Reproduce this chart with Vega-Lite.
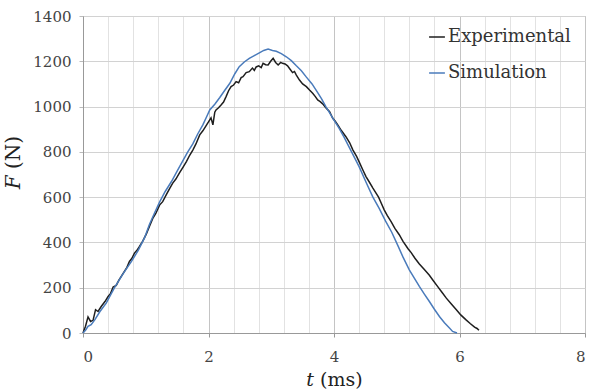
{
  "$schema": "https://vega.github.io/schema/vega-lite/v6.json",
  "autosize": {"type": "none"},
  "padding": {"left": 83, "top": 16, "right": 14, "bottom": 59},
  "width": 502,
  "height": 317,
  "background": "white",
  "config": {
    "view": {"stroke": "#a8a8a8", "strokeWidth": 1},
    "font": "DejaVu Serif"
  },
  "data": {
    "values": [
      {"t": 0, "F": 0, "series": "Experimental"},
      {"t": 0.04, "F": 30, "series": "Experimental"},
      {"t": 0.08, "F": 71, "series": "Experimental"},
      {"t": 0.12, "F": 51, "series": "Experimental"},
      {"t": 0.16, "F": 56, "series": "Experimental"},
      {"t": 0.2, "F": 103, "series": "Experimental"},
      {"t": 0.24, "F": 95, "series": "Experimental"},
      {"t": 0.29, "F": 117, "series": "Experimental"},
      {"t": 0.35, "F": 139, "series": "Experimental"},
      {"t": 0.4, "F": 161, "series": "Experimental"},
      {"t": 0.44, "F": 175, "series": "Experimental"},
      {"t": 0.48, "F": 203, "series": "Experimental"},
      {"t": 0.53, "F": 210, "series": "Experimental"},
      {"t": 0.57, "F": 232, "series": "Experimental"},
      {"t": 0.61, "F": 250, "series": "Experimental"},
      {"t": 0.66, "F": 272, "series": "Experimental"},
      {"t": 0.7, "F": 290, "series": "Experimental"},
      {"t": 0.74, "F": 316, "series": "Experimental"},
      {"t": 0.78, "F": 330, "series": "Experimental"},
      {"t": 0.82, "F": 353, "series": "Experimental"},
      {"t": 0.86, "F": 365, "series": "Experimental"},
      {"t": 0.9, "F": 382, "series": "Experimental"},
      {"t": 0.95, "F": 405, "series": "Experimental"},
      {"t": 1.01, "F": 438, "series": "Experimental"},
      {"t": 1.06, "F": 472, "series": "Experimental"},
      {"t": 1.11, "F": 505, "series": "Experimental"},
      {"t": 1.16, "F": 528, "series": "Experimental"},
      {"t": 1.22, "F": 565, "series": "Experimental"},
      {"t": 1.27, "F": 580, "series": "Experimental"},
      {"t": 1.33, "F": 612, "series": "Experimental"},
      {"t": 1.38, "F": 638, "series": "Experimental"},
      {"t": 1.43, "F": 662, "series": "Experimental"},
      {"t": 1.48, "F": 680, "series": "Experimental"},
      {"t": 1.54, "F": 708, "series": "Experimental"},
      {"t": 1.6, "F": 735, "series": "Experimental"},
      {"t": 1.65, "F": 758, "series": "Experimental"},
      {"t": 1.7, "F": 785, "series": "Experimental"},
      {"t": 1.75, "F": 808, "series": "Experimental"},
      {"t": 1.8, "F": 835, "series": "Experimental"},
      {"t": 1.86, "F": 875, "series": "Experimental"},
      {"t": 1.91, "F": 893, "series": "Experimental"},
      {"t": 1.96, "F": 915, "series": "Experimental"},
      {"t": 2.0, "F": 932, "series": "Experimental"},
      {"t": 2.04, "F": 950, "series": "Experimental"},
      {"t": 2.07, "F": 919, "series": "Experimental"},
      {"t": 2.1, "F": 975, "series": "Experimental"},
      {"t": 2.12, "F": 985, "series": "Experimental"},
      {"t": 2.16, "F": 995, "series": "Experimental"},
      {"t": 2.2, "F": 1007, "series": "Experimental"},
      {"t": 2.24, "F": 1020, "series": "Experimental"},
      {"t": 2.28, "F": 1044, "series": "Experimental"},
      {"t": 2.32, "F": 1070, "series": "Experimental"},
      {"t": 2.36, "F": 1088, "series": "Experimental"},
      {"t": 2.4, "F": 1095, "series": "Experimental"},
      {"t": 2.44, "F": 1110, "series": "Experimental"},
      {"t": 2.48, "F": 1105, "series": "Experimental"},
      {"t": 2.52, "F": 1128, "series": "Experimental"},
      {"t": 2.55, "F": 1132, "series": "Experimental"},
      {"t": 2.6, "F": 1150, "series": "Experimental"},
      {"t": 2.65, "F": 1154, "series": "Experimental"},
      {"t": 2.7, "F": 1170, "series": "Experimental"},
      {"t": 2.73, "F": 1160, "series": "Experimental"},
      {"t": 2.76, "F": 1175, "series": "Experimental"},
      {"t": 2.8, "F": 1180, "series": "Experimental"},
      {"t": 2.84, "F": 1172, "series": "Experimental"},
      {"t": 2.87, "F": 1191, "series": "Experimental"},
      {"t": 2.91, "F": 1185, "series": "Experimental"},
      {"t": 2.95, "F": 1184, "series": "Experimental"},
      {"t": 2.99, "F": 1200, "series": "Experimental"},
      {"t": 3.03, "F": 1213, "series": "Experimental"},
      {"t": 3.07, "F": 1195, "series": "Experimental"},
      {"t": 3.11, "F": 1184, "series": "Experimental"},
      {"t": 3.15, "F": 1195, "series": "Experimental"},
      {"t": 3.18, "F": 1191, "series": "Experimental"},
      {"t": 3.22, "F": 1188, "series": "Experimental"},
      {"t": 3.26, "F": 1180, "series": "Experimental"},
      {"t": 3.3, "F": 1165, "series": "Experimental"},
      {"t": 3.34, "F": 1150, "series": "Experimental"},
      {"t": 3.37, "F": 1155, "series": "Experimental"},
      {"t": 3.4, "F": 1139, "series": "Experimental"},
      {"t": 3.45, "F": 1117, "series": "Experimental"},
      {"t": 3.5, "F": 1100, "series": "Experimental"},
      {"t": 3.56, "F": 1088, "series": "Experimental"},
      {"t": 3.61, "F": 1073, "series": "Experimental"},
      {"t": 3.66, "F": 1059, "series": "Experimental"},
      {"t": 3.7, "F": 1045, "series": "Experimental"},
      {"t": 3.74, "F": 1029, "series": "Experimental"},
      {"t": 3.78, "F": 1022, "series": "Experimental"},
      {"t": 3.82, "F": 1012, "series": "Experimental"},
      {"t": 3.87, "F": 995, "series": "Experimental"},
      {"t": 3.93, "F": 977, "series": "Experimental"},
      {"t": 3.98, "F": 948, "series": "Experimental"},
      {"t": 4.02, "F": 935, "series": "Experimental"},
      {"t": 4.06, "F": 919, "series": "Experimental"},
      {"t": 4.12, "F": 893, "series": "Experimental"},
      {"t": 4.19, "F": 867, "series": "Experimental"},
      {"t": 4.25, "F": 840, "series": "Experimental"},
      {"t": 4.3, "F": 809, "series": "Experimental"},
      {"t": 4.36, "F": 780, "series": "Experimental"},
      {"t": 4.41, "F": 750, "series": "Experimental"},
      {"t": 4.46, "F": 720, "series": "Experimental"},
      {"t": 4.51, "F": 691, "series": "Experimental"},
      {"t": 4.56, "F": 668, "series": "Experimental"},
      {"t": 4.62, "F": 640, "series": "Experimental"},
      {"t": 4.67, "F": 618, "series": "Experimental"},
      {"t": 4.71, "F": 600, "series": "Experimental"},
      {"t": 4.75, "F": 575, "series": "Experimental"},
      {"t": 4.8, "F": 544, "series": "Experimental"},
      {"t": 4.85, "F": 518, "series": "Experimental"},
      {"t": 4.91, "F": 492, "series": "Experimental"},
      {"t": 4.97, "F": 462, "series": "Experimental"},
      {"t": 5.04, "F": 434, "series": "Experimental"},
      {"t": 5.1, "F": 405, "series": "Experimental"},
      {"t": 5.18, "F": 372, "series": "Experimental"},
      {"t": 5.23, "F": 355, "series": "Experimental"},
      {"t": 5.29, "F": 330, "series": "Experimental"},
      {"t": 5.36, "F": 305, "series": "Experimental"},
      {"t": 5.44, "F": 280, "series": "Experimental"},
      {"t": 5.52, "F": 255, "series": "Experimental"},
      {"t": 5.58, "F": 232, "series": "Experimental"},
      {"t": 5.65, "F": 206, "series": "Experimental"},
      {"t": 5.72, "F": 180, "series": "Experimental"},
      {"t": 5.79, "F": 154, "series": "Experimental"},
      {"t": 5.87, "F": 128, "series": "Experimental"},
      {"t": 5.95, "F": 103, "series": "Experimental"},
      {"t": 6.02, "F": 80, "series": "Experimental"},
      {"t": 6.1, "F": 59, "series": "Experimental"},
      {"t": 6.17, "F": 42, "series": "Experimental"},
      {"t": 6.24, "F": 26, "series": "Experimental"},
      {"t": 6.28, "F": 20, "series": "Experimental"},
      {"t": 6.31, "F": 12, "series": "Experimental"},
      {"t": 0, "F": 0, "series": "Simulation"},
      {"t": 0.04, "F": 12, "series": "Simulation"},
      {"t": 0.08, "F": 29, "series": "Simulation"},
      {"t": 0.13, "F": 37, "series": "Simulation"},
      {"t": 0.19, "F": 59, "series": "Simulation"},
      {"t": 0.27, "F": 95, "series": "Simulation"},
      {"t": 0.37, "F": 132, "series": "Simulation"},
      {"t": 0.5, "F": 199, "series": "Simulation"},
      {"t": 0.64, "F": 262, "series": "Simulation"},
      {"t": 0.77, "F": 315, "series": "Simulation"},
      {"t": 0.88, "F": 365, "series": "Simulation"},
      {"t": 0.98, "F": 420, "series": "Simulation"},
      {"t": 1.06, "F": 480, "series": "Simulation"},
      {"t": 1.14, "F": 530, "series": "Simulation"},
      {"t": 1.22, "F": 578, "series": "Simulation"},
      {"t": 1.31, "F": 625, "series": "Simulation"},
      {"t": 1.41, "F": 669, "series": "Simulation"},
      {"t": 1.5, "F": 715, "series": "Simulation"},
      {"t": 1.59, "F": 760, "series": "Simulation"},
      {"t": 1.67, "F": 800, "series": "Simulation"},
      {"t": 1.75, "F": 835, "series": "Simulation"},
      {"t": 1.83, "F": 880, "series": "Simulation"},
      {"t": 1.91, "F": 919, "series": "Simulation"},
      {"t": 1.97, "F": 955, "series": "Simulation"},
      {"t": 2.02, "F": 985, "series": "Simulation"},
      {"t": 2.1, "F": 1010, "series": "Simulation"},
      {"t": 2.18, "F": 1040, "series": "Simulation"},
      {"t": 2.26, "F": 1072, "series": "Simulation"},
      {"t": 2.34, "F": 1103, "series": "Simulation"},
      {"t": 2.42, "F": 1145, "series": "Simulation"},
      {"t": 2.49, "F": 1176, "series": "Simulation"},
      {"t": 2.57, "F": 1197, "series": "Simulation"},
      {"t": 2.65, "F": 1213, "series": "Simulation"},
      {"t": 2.73, "F": 1225, "series": "Simulation"},
      {"t": 2.81, "F": 1237, "series": "Simulation"},
      {"t": 2.88, "F": 1248, "series": "Simulation"},
      {"t": 2.95, "F": 1254, "series": "Simulation"},
      {"t": 3.02, "F": 1248, "series": "Simulation"},
      {"t": 3.08, "F": 1244, "series": "Simulation"},
      {"t": 3.16, "F": 1234, "series": "Simulation"},
      {"t": 3.24, "F": 1220, "series": "Simulation"},
      {"t": 3.32, "F": 1203, "series": "Simulation"},
      {"t": 3.4, "F": 1180, "series": "Simulation"},
      {"t": 3.48, "F": 1158, "series": "Simulation"},
      {"t": 3.56, "F": 1130, "series": "Simulation"},
      {"t": 3.65, "F": 1100, "series": "Simulation"},
      {"t": 3.74, "F": 1062, "series": "Simulation"},
      {"t": 3.8, "F": 1035, "series": "Simulation"},
      {"t": 3.87, "F": 1000, "series": "Simulation"},
      {"t": 3.94, "F": 968, "series": "Simulation"},
      {"t": 4.0, "F": 940, "series": "Simulation"},
      {"t": 4.08, "F": 905, "series": "Simulation"},
      {"t": 4.16, "F": 865, "series": "Simulation"},
      {"t": 4.28, "F": 800, "series": "Simulation"},
      {"t": 4.4, "F": 735, "series": "Simulation"},
      {"t": 4.52, "F": 660, "series": "Simulation"},
      {"t": 4.62, "F": 600, "series": "Simulation"},
      {"t": 4.72, "F": 550, "series": "Simulation"},
      {"t": 4.82, "F": 495, "series": "Simulation"},
      {"t": 4.92, "F": 445, "series": "Simulation"},
      {"t": 5.02, "F": 385, "series": "Simulation"},
      {"t": 5.1, "F": 335, "series": "Simulation"},
      {"t": 5.2, "F": 279, "series": "Simulation"},
      {"t": 5.28, "F": 242, "series": "Simulation"},
      {"t": 5.36, "F": 206, "series": "Simulation"},
      {"t": 5.44, "F": 172, "series": "Simulation"},
      {"t": 5.52, "F": 139, "series": "Simulation"},
      {"t": 5.6, "F": 105, "series": "Simulation"},
      {"t": 5.68, "F": 73, "series": "Simulation"},
      {"t": 5.76, "F": 45, "series": "Simulation"},
      {"t": 5.84, "F": 22, "series": "Simulation"},
      {"t": 5.89, "F": 7, "series": "Simulation"},
      {"t": 5.96, "F": 0, "series": "Simulation"}
    ]
  },
  "mark": {"type": "line", "strokeWidth": 1.5, "interpolate": "linear"},
  "encoding": {
    "x": {
      "field": "t",
      "type": "quantitative",
      "scale": {"domain": [0, 8], "nice": false, "zero": false},
      "axis": {
        "title": "𝑡 (ms)",
        "titleFont": "DejaVu Serif",
        "titleFontSize": 19,
        "titleFontWeight": "normal",
        "titleColor": "#222",
        "titlePadding": 6,
        "values": [0, 0.4, 0.8, 1.2, 1.6, 2, 2.4, 2.8, 3.2, 3.6, 4, 4.4, 4.8, 5.2, 5.6, 6, 6.4, 6.8, 7.2, 7.6, 8],
        "labelExpr": "datum.value % 2 === 0 ? format(datum.value, 'd') : ''",
        "labelOverlap": false,
        "labelFont": "DejaVu Serif",
        "labelFontSize": 15,
        "labelColor": "#444",
        "labelPadding": 12,
        "tickSize": 4,
        "tickColor": "#999",
        "tickOpacity": {"condition": {"test": "datum.value % 2 === 0", "value": 1}, "value": 0},
        "domainColor": "#999",
        "grid": true,
        "gridColor": {"condition": {"test": "datum.value % 2 === 0", "value": "#c4c4c4"}, "value": "#e2e2e2"},
        "gridWidth": 1
      }
    },
    "y": {
      "field": "F",
      "type": "quantitative",
      "scale": {"domain": [0, 1400], "nice": false},
      "axis": {
        "title": "𝐹 (N)",
        "titleFont": "DejaVu Serif",
        "titleFontSize": 20,
        "titleFontWeight": "normal",
        "titleColor": "#222",
        "titleX": -60,
        "titleY": 146,
        "values": [0, 200, 400, 600, 800, 1000, 1200, 1400],
        "labelExpr": "format(datum.value, 'd')",
        "labelFont": "DejaVu Serif",
        "labelFontSize": 15,
        "labelColor": "#444",
        "labelPadding": 8,
        "tickSize": 4,
        "tickColor": "#bbb",
        "domainColor": "#999",
        "grid": true,
        "gridColor": "#d2d2d2"
      }
    },
    "color": {
      "field": "series",
      "type": "nominal",
      "scale": {"domain": ["Experimental", "Simulation"], "range": ["#1e1e1e", "#4a7bbb"]},
      "legend": {
        "title": null,
        "orient": "none",
        "legendX": 345,
        "legendY": 12,
        "symbolType": "stroke",
        "symbolSize": 250,
        "symbolStrokeWidth": 1.5,
        "symbolOffset": 0,
        "labelOffset": 2,
        "labelFont": "DejaVu Serif",
        "labelFontSize": 18,
        "labelColor": "#333",
        "rowPadding": 18,
        "padding": 0
      }
    }
  }
}
